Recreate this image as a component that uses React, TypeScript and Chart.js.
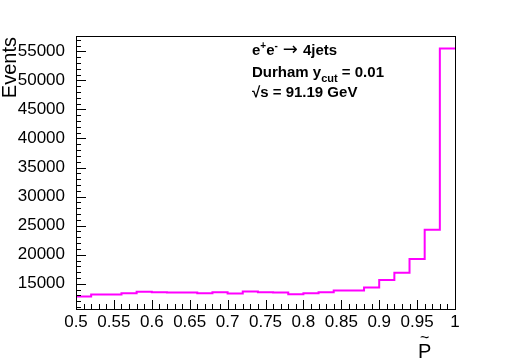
import React, { useEffect, useRef } from "react";
import { Chart, registerables } from "chart.js";

Chart.register(...registerables);

// Histogram bins (lower edges) and contents
const binLowEdges = [
  0.5, 0.52, 0.54, 0.56, 0.58, 0.6, 0.62, 0.64, 0.66, 0.68, 0.7, 0.72, 0.74,
  0.76, 0.78, 0.8, 0.82, 0.84, 0.86, 0.88, 0.9, 0.92, 0.94, 0.96, 0.98,
];
const lastBinUpEdge = 1.0;
const events = [
  12800, 13150, 13150, 13390, 13620, 13560, 13500, 13500, 13390, 13560, 13330,
  13670, 13560, 13500, 13220, 13390, 13560, 13850, 13850, 14370, 15640, 16900,
  19270, 24290, 55500,
];

const xMin = 0.5;
const xMax = 1.0;
const yMin = 10665;
const yMax = 57635;
const xTickValues = [0.5, 0.55, 0.6, 0.65, 0.7, 0.75, 0.8, 0.85, 0.9, 0.95, 1];
const xTickLabels = ["0.5", "0.55", "0.6", "0.65", "0.7", "0.75", "0.8", "0.85", "0.9", "0.95", "1"];
const yTickValues = [15000, 20000, 25000, 30000, 35000, 40000, 45000, 50000, 55000];
const yTickLabels = ["15000", "20000", "25000", "30000", "35000", "40000", "45000", "50000", "55000"];
const xMinorStep = 0.01;
const yMinorStep = 1000;

const yTitle = "Events";
const xTitle = "P";
const infoLine1 = ["e", "+", "e", "-", "\u2192", "4jets"];
const infoLine2 = ["Durham y", "cut", " = 0.01"];
const infoLine3 = ["\u221As = 91.19 GeV"];

const FONT = "'Liberation Sans', Arial, Helvetica, sans-serif";
const COLOR = "#ff00ff";

const decorPlugin = {
  id: "rootDecor",
  afterDraw(chart: any) {
    const { ctx, chartArea } = chart;
    const xs = chart.scales.x;
    const ys = chart.scales.y;
    const { left, right, top, bottom } = chartArea;
    ctx.save();
    ctx.strokeStyle = "#000";
    ctx.lineWidth = 1;
    // frame
    ctx.strokeRect(Math.round(left) + 0.5, Math.round(top) + 0.5, Math.round(right - left), Math.round(bottom - top));
    // y ticks (inward)
    ctx.beginPath();
    for (let v = Math.ceil(yMin / yMinorStep) * yMinorStep; v <= yMax; v += yMinorStep) {
      const y = Math.round(ys.getPixelForValue(v)) + 0.5;
      const len = yTickValues.includes(v) ? 10 : 5;
      ctx.moveTo(left, y);
      ctx.lineTo(left + len, y);
    }
    // x ticks (inward)
    const n = Math.round((xMax - xMin) / xMinorStep);
    for (let i = 0; i <= n; i++) {
      const v = xMin + i * xMinorStep;
      const x = Math.round(xs.getPixelForValue(v)) + 0.5;
      const len = i % 5 === 0 ? 9 : 5;
      ctx.moveTo(x, bottom);
      ctx.lineTo(x, bottom - len);
    }
    ctx.stroke();

    // y title
    ctx.fillStyle = "#000";
    ctx.save();
    ctx.translate(16, 37);
    ctx.rotate(-Math.PI / 2);
    ctx.font = `20px ${FONT}`;
    ctx.textAlign = "right";
    ctx.textBaseline = "alphabetic";
    ctx.fillText(yTitle, 0, 0);
    ctx.restore();

    // x title P with tilde
    ctx.font = `20px ${FONT}`;
    ctx.textAlign = "left";
    ctx.textBaseline = "alphabetic";
    ctx.fillText(xTitle, 418, 358);
    ctx.font = `16px ${FONT}`;
    ctx.fillText("~", 420, 343);

    // info text
    const x0 = 252;
    const bold = (s: number) => `bold ${s}px ${FONT}`;
    let x = x0;
    let y = 55;
    ctx.font = bold(15);
    ctx.fillText(infoLine1[0], x, y);
    x += ctx.measureText(infoLine1[0]).width;
    ctx.font = bold(10);
    ctx.fillText(infoLine1[1], x, y - 6);
    x += ctx.measureText(infoLine1[1]).width;
    ctx.font = bold(15);
    ctx.fillText(infoLine1[2], x, y);
    x += ctx.measureText(infoLine1[2]).width;
    ctx.font = bold(10);
    ctx.fillText(infoLine1[3], x, y - 6);
    x += ctx.measureText(infoLine1[3]).width + 5;
    ctx.font = `18px 'DejaVu Sans', ${FONT}`;
    ctx.fillText(infoLine1[4], x, y);
    x += ctx.measureText(infoLine1[4]).width + 5;
    ctx.font = bold(15);
    ctx.fillText(infoLine1[5], x, y);

    x = x0;
    y = 77;
    ctx.font = bold(15);
    ctx.fillText(infoLine2[0], x, y);
    x += ctx.measureText(infoLine2[0]).width;
    ctx.font = bold(11);
    ctx.fillText(infoLine2[1], x, y + 5);
    x += ctx.measureText(infoLine2[1]).width;
    ctx.font = bold(15);
    ctx.fillText(infoLine2[2], x, y);

    ctx.font = bold(15);
    ctx.fillText(infoLine3[0], x0, 97);
    ctx.restore();
  },
};

export default function App() {
  const ref = useRef<HTMLCanvasElement>(null);
  useEffect(() => {
    if (!ref.current) return;
    const pts = binLowEdges.map((e, i) => ({ x: e, y: events[i] }));
    pts.push({ x: lastBinUpEdge, y: events[events.length - 1] });
    const chart = new Chart(ref.current, {
      type: "line",
      data: {
        datasets: [
          {
            data: pts,
            borderColor: COLOR,
            borderWidth: 2,
            pointRadius: 0,
            stepped: "before",
            fill: false,
          },
        ],
      },
      options: {
        animation: false,
        responsive: false,
        events: [],
        layout: { padding: { left: 0, right: 50, top: 36, bottom: 0 } },
        plugins: { legend: { display: false }, tooltip: { enabled: false } },
        scales: {
          x: {
            type: "linear",
            min: xMin,
            max: xMax,
            grid: { display: false },
            border: { display: false },
            afterBuildTicks: (s: any) => {
              s.ticks = xTickValues.map((v) => ({ value: v }));
            },
            ticks: {
              padding: -5,
              color: "#000",
              font: { family: FONT, size: 17 },
              maxRotation: 0,
              autoSkip: false,
              callback: (_v: any, i: number) => xTickLabels[i],
            },
            afterFit: (s: any) => {
              s.height = 55;
            },
          },
          y: {
            type: "linear",
            min: yMin,
            max: yMax,
            grid: { display: false },
            border: { display: false },
            afterBuildTicks: (s: any) => {
              s.ticks = yTickValues.map((v) => ({ value: v }));
            },
            ticks: {
              padding: 3,
              color: "#000",
              font: { family: FONT, size: 17 },
              autoSkip: false,
              callback: (_v: any, i: number) => yTickLabels[i],
            },
            afterFit: (s: any) => {
              s.width = 76;
            },
          },
        },
      },
      plugins: [decorPlugin],
    });
    return () => chart.destroy();
  }, []);
  return (
    <div style={{ position: "fixed", left: 0, top: 0, width: 505, height: 364, background: "#fff" }}>
      <canvas ref={ref} width={505} height={364} style={{ width: 505, height: 364, display: "block" }} />
    </div>
  );
}
